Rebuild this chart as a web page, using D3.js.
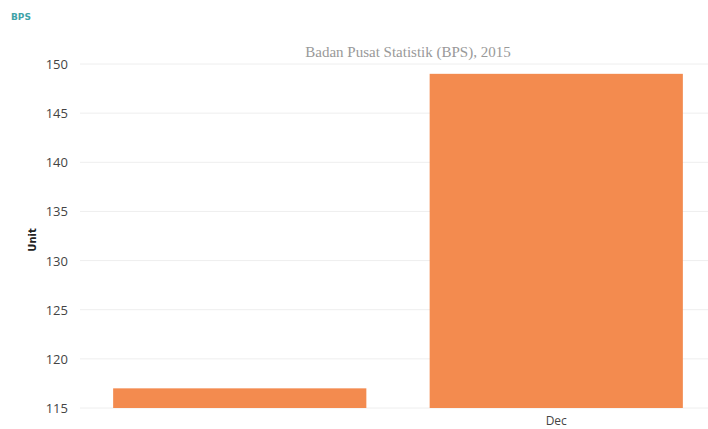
<!DOCTYPE html>
<html><head><meta charset="utf-8">
<script src="https://cdn.jsdelivr.net/npm/d3@7"></script>
<style>html,body{margin:0;padding:0;background:#fff;overflow:hidden}</style>
</head><body>
<svg id="c" width="708" height="429"></svg>
<script>
const categories = ["Nov", "Dec"];
const tickLabels = ["", "Dec"];
const values = [117, 149];
const yTicks = [115, 120, 125, 130, 135, 140, 145, 150];
const title = "Badan Pusat Statistik (BPS), 2015";
const yTitle = "Unit";

const svg = d3.select("#c");
const x = d3.scaleBand().domain(categories).range([81.5, 714.5]).paddingInner(0.2).paddingOuter(0.1);
const y = d3.scaleLinear().domain([115, 150]).range([408, 64]);

// logo
svg.append("text").attr("x", 11).attr("y", 20).attr("font-family", "DejaVu Sans, sans-serif")
  .attr("font-size", 9).attr("font-weight", "bold").attr("fill", "#3fa3a8").text("BPS");

// grid
svg.append("g").selectAll("line").data(yTicks).join("line")
  .attr("x1", 80).attr("x2", 708).attr("y1", d => y(d)).attr("y2", d => y(d))
  .attr("stroke", "#eeeeee").attr("stroke-width", 1);

// y axis labels
const yAxis = d3.axisLeft(y).tickValues(yTicks).tickSize(0).tickPadding(0);
const ya = svg.append("g").attr("transform", "translate(68,0)").call(yAxis);
ya.select(".domain").remove();
ya.selectAll("text").attr("font-family", "Open Sans, sans-serif").attr("font-size", 13).attr("fill", "#444").attr("dy", "0.35em");

// bars
svg.append("g").selectAll("rect").data(values).join("rect")
  .attr("x", (d, i) => x(categories[i])).attr("width", x.bandwidth())
  .attr("y", d => y(d)).attr("height", d => y(115) - y(d))
  .attr("fill", "#f38b4f");

// x axis labels
const xAxis = d3.axisBottom(x).tickSize(0).tickPadding(0).tickFormat((d, i) => tickLabels[i]);
const xa = svg.append("g").attr("transform", "translate(0,414)").call(xAxis);
xa.select(".domain").remove();
xa.selectAll("text").attr("font-family", "Open Sans, sans-serif").attr("font-size", 12).attr("fill", "#444").attr("dy", "0.9em");

// title
svg.append("text").attr("x", 408).attr("y", 57).attr("text-anchor", "middle")
  .attr("font-family", "Liberation Serif, serif").attr("font-size", 15).attr("fill", "#999").text(title);

// y title
svg.append("text").attr("transform", "translate(36,240) rotate(-90)").attr("text-anchor", "middle")
  .attr("font-family", "DejaVu Sans, sans-serif").attr("font-size", 10).attr("font-weight", "bold").attr("fill", "#222").text(yTitle);
</script>
</body></html>
